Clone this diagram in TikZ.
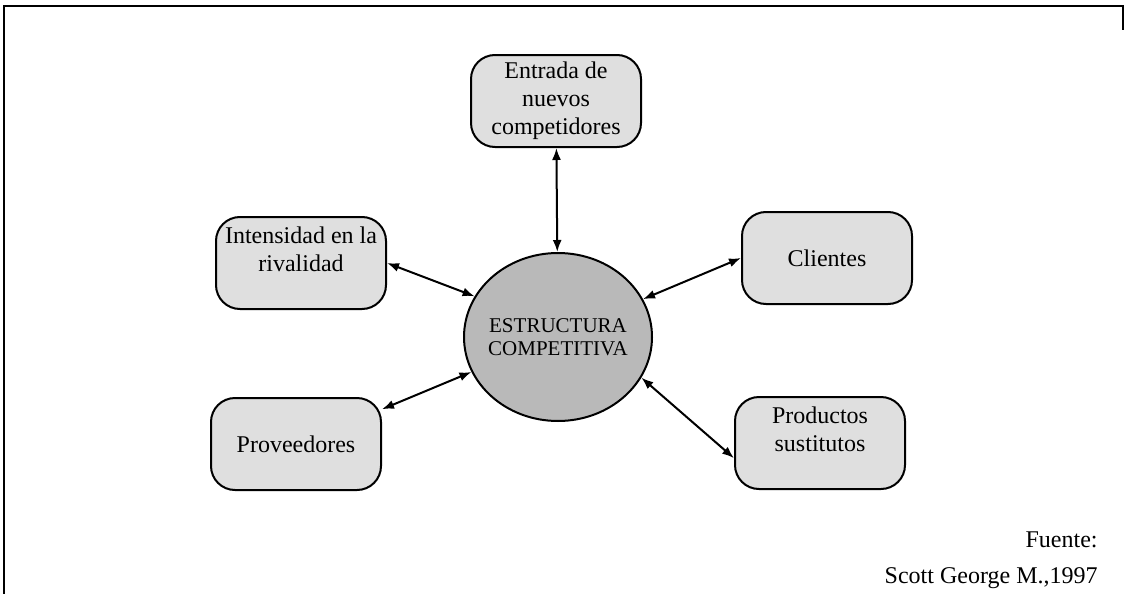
\documentclass[tikz,border=0pt]{standalone}
\usepackage{fontspec}
\setmainfont{Liberation Serif}
\usetikzlibrary{shapes.geometric, arrows.meta}
\tikzstyle{fuerza} = [rectangle, rounded corners=12pt, minimum width=85pt, minimum height=46pt, align=center, draw=black, line width=1pt, fill=gray!25, font=\fontsize{12}{14}\selectfont]
\tikzstyle{centro} = [ellipse, minimum width=94pt, minimum height=84pt, inner xsep=-3pt, inner ysep=0pt, align=center, draw=black, line width=1pt, fill=gray!55, font=\fontsize{10.5}{11.5}\selectfont]
\tikzstyle{fuente} = [anchor=east, inner sep=0pt, font=\fontsize{12}{14}\selectfont]
\tikzstyle{arrow} = [line width=1pt, {Latex[length=6pt,width=4.5pt]}-{Latex[length=6pt,width=4.5pt]}]

\begin{document}
\begin{tikzpicture}[x=0.5pt, y=-0.5pt]
    \useasboundingbox (0,0) rectangle (1125,594);
    % marco
    \draw [line width=1.1pt] (4,594) -- (4,6) -- (1123,6) -- (1123,30);

    \node [centro]						(estructura)	at (558,337)	{ESTRUCTURA\\COMPETITIVA};
    \node [fuerza]						(entrada)		at (556,101)	{Entrada de\\nuevos\\competidores};
    \node [fuerza]						(rivalidad)		at (301,263)	{Intensidad en la\\rivalidad\\~};
    \node [fuerza]						(clientes)		at (827,258)	{Clientes};
    \node [fuerza]						(sustitutos)	at (820,443)	{Productos\\sustitutos\\~};
    \node [fuerza]						(proveedores)	at (296,444)	{Proveedores};

    \node [fuente]						(fuente)		at (1098,540)	{Fuente:};
    \node [fuente]						(autor)			at (1098,578)	{Scott George M.,1997};

    \draw [arrow] (entrada) -- (estructura);
    \draw [arrow] (rivalidad.east) -- (estructura.154);
    \draw [arrow] (proveedores.22) -- (estructura.202);
    \draw [arrow] (clientes.west) -- (estructura.24);
    \draw [arrow] (sustitutos.190) -- (estructura.334);
\end{tikzpicture}
\end{document}
